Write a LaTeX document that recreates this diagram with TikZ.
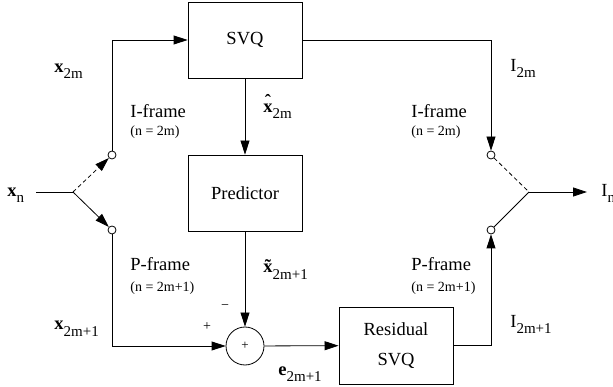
\documentclass[tikz,border=0pt]{standalone}
\usepackage{fontspec}
\setmainfont{Liberation Serif}
\usetikzlibrary{arrows.meta}
\newcommand{\mainsz}{\fontsize{18.5}{21}\selectfont}
\newcommand{\smallsz}{\fontsize{14}{16}\selectfont}
\newcommand{\subsz}{\fontsize{15}{15}\selectfont}
\newcommand{\lbl}[2]{\mainsz #1\raisebox{-6pt}{\subsz #2}}
\newcommand{\accx}[1]{\ooalign{\textbf{x}\cr\hidewidth\raisebox{#1}{\textbf{\char"02C6}}\hidewidth\cr}}
\newcommand{\tilx}{\ooalign{\textbf{x}\cr\hidewidth\raisebox{1pt}{\textbf{\char"02DC}}\hidewidth\cr}}
\begin{document}
\begin{tikzpicture}[x=1pt,y=-1pt,
  line width=0.8pt,
  tip/.style={-{Triangle[length=14pt,width=9pt]}},
  blk/.style={draw,rectangle,minimum width=114pt,minimum height=76pt,inner sep=0pt,font=\mainsz,align=center},
  sw/.style={draw,circle,minimum size=8pt,inner sep=0pt,fill=white},
  txt/.style={inner sep=0pt,anchor=base west}]
\useasboundingbox (0,0) rectangle (613,387);
% blocks
\node[blk] (svq) at (245,40) {SVQ};
\node[blk] (pred) at (245,193) {Predictor};
\node[blk,minimum height=77pt] (res) at (396,345.5) {Residual\\[9pt]SVQ};
\node[draw,circle,minimum size=38pt,inner sep=0pt] (sum) at (245,346) {\fontsize{13}{13}\selectfont +};
% switch points
\coordinate (xin) at (36,192);
\coordinate (j1) at (73,192);
\coordinate (j2) at (529,192);
\coordinate (out) at (587,192);
\node[sw] (c1) at (112,155) {};
\node[sw] (c2) at (112,230) {};
\node[sw] (c3) at (491,155) {};
\node[sw] (c4) at (491,230) {};
% connectors
\draw (xin) -- (j1);
\draw[tip,dashed,dash pattern=on 4pt off 3pt] (j1) -- (c1);
\draw[tip] (j1) -- (c2);
\draw[tip] (c1) |- (svq.west);
\draw[tip] (c2) |- (sum);
\draw[tip] (svq) -- (pred);
\draw[tip] (pred) -- (sum);
\draw[tip] (sum) -- (res);
\draw[tip] (svq.east) -| (c3);
\draw[tip] (res.east) -| (c4);
\draw[dash pattern=on 4pt off 3pt] (c3) -- (j2);
\draw (c4) -- (j2);
\draw[tip] (j2) -- (out);
% labels
\node[txt] (lxn) at (7,197) {\lbl{\textbf{x}}{n}};
\node[txt] (lx2m) at (54,73) {\lbl{\textbf{x}}{2m}};
\node[txt] (lx2m1) at (54,330) {\lbl{\textbf{x}}{2m+1}};
\node[txt] (lxh) at (263,113) {\lbl{\accx{5pt}}{2m}};
\node[txt] (lxt) at (263,273) {\lbl{\tilx}{2m+1}};
\node[txt] (le) at (278,375) {\lbl{\textbf{e}}{2m+1}};
\node[txt] (li2m) at (510,72) {\lbl{I}{2m}};
\node[txt] (li2m1) at (510,327) {\lbl{I}{2m+1}};
\node[txt] (lin) at (601,197) {\lbl{I}{n}};
\node[txt] (if1) at (130,118) {\mainsz I-frame};
\node[txt] (if1s) at (130,136) {\smallsz (n = 2m)};
\node[txt] (if2) at (411,118) {\mainsz I-frame};
\node[txt] (if2s) at (411,136) {\smallsz (n = 2m)};
\node[txt] (pf1) at (130,271) {\mainsz P-frame};
\node[txt] (pf1s) at (130,291) {\smallsz (n = 2m+1)};
\node[txt] (pf2) at (411,271) {\mainsz P-frame};
\node[txt] (pf2s) at (411,291) {\smallsz (n = 2m+1)};
\node[inner sep=0pt,font=\fontsize{14}{14}\selectfont] (plus) at (207,327) {+};
\node[inner sep=0pt,font=\fontsize{14}{14}\selectfont] (minus) at (225,307) {−};
\end{tikzpicture}
\end{document}
